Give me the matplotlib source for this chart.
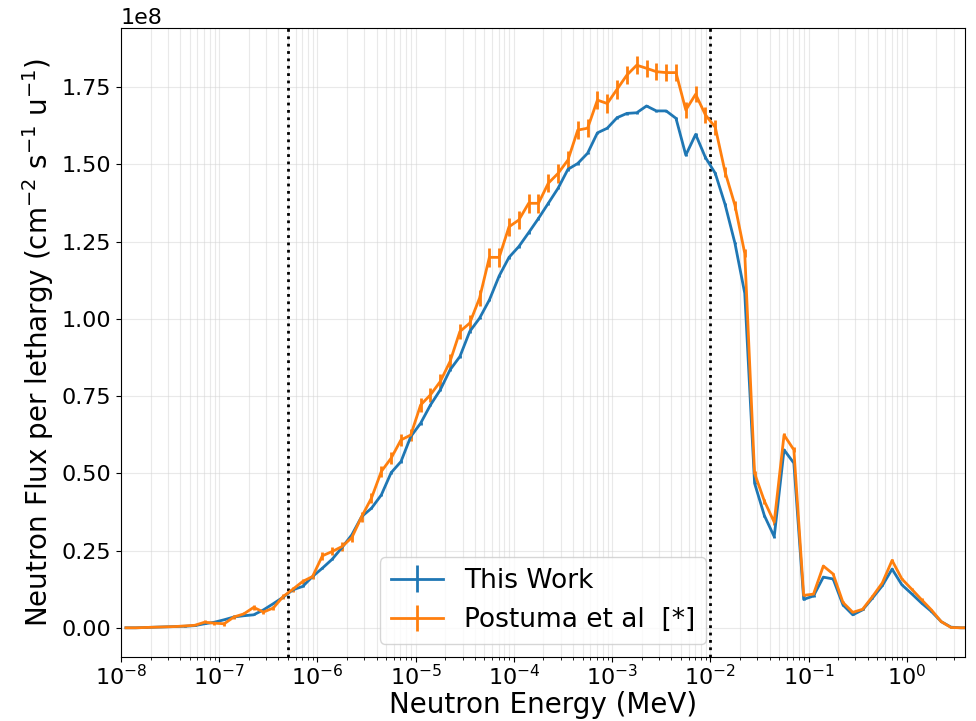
import numpy as np
import matplotlib
matplotlib.use("Agg")
import matplotlib.pyplot as plt

# Energy group structure: 10 log-uniform groups per decade starting at 1e-8 MeV
edges = np.logspace(-8.0, 0.7, 88)
energy = np.sqrt(edges[:-1] * edges[1:])  # geometric bin centres (MeV)

# Flux per lethargy, in units of 1e8 cm^-2 s^-1 u^-1
this_work = [
    0.000, 0.000, 0.001, 0.002, 0.003, 0.004, 0.005, 0.007, 0.013, 0.018,
    0.026, 0.035, 0.039, 0.042, 0.058, 0.078, 0.099, 0.123, 0.134, 0.166,
    0.193, 0.222, 0.260, 0.301, 0.360, 0.387, 0.430, 0.502, 0.538, 0.619,
    0.662, 0.721, 0.770, 0.835, 0.878, 0.959, 1.002, 1.061, 1.139, 1.199,
    1.234, 1.279, 1.325, 1.374, 1.423, 1.484, 1.503, 1.536, 1.602, 1.617,
    1.651, 1.665, 1.667, 1.689, 1.673, 1.673, 1.649, 1.530, 1.597, 1.522,
    1.471, 1.370, 1.245, 1.083, 0.468, 0.363, 0.295, 0.576, 0.533, 0.092,
    0.103, 0.164, 0.158, 0.074, 0.042, 0.058, 0.096, 0.136, 0.190, 0.139,
    0.110, 0.080, 0.053, 0.020, 0.002, 0.000, 0.000,
]
this_work_err = [
    0.001, 0.001, 0.001, 0.001, 0.001, 0.001, 0.001, 0.001, 0.002, 0.002,
    0.002, 0.002, 0.002, 0.002, 0.002, 0.002, 0.003, 0.003, 0.003, 0.003,
    0.003, 0.003, 0.003, 0.003, 0.003, 0.003, 0.003, 0.004, 0.004, 0.004,
    0.004, 0.004, 0.004, 0.004, 0.004, 0.004, 0.004, 0.004, 0.004, 0.004,
    0.004, 0.004, 0.004, 0.004, 0.004, 0.004, 0.004, 0.004, 0.004, 0.004,
    0.004, 0.004, 0.004, 0.004, 0.004, 0.004, 0.004, 0.004, 0.004, 0.004,
    0.004, 0.004, 0.004, 0.004, 0.003, 0.003, 0.003, 0.003, 0.003, 0.002,
    0.002, 0.002, 0.002, 0.002, 0.002, 0.002, 0.002, 0.002, 0.002, 0.002,
    0.002, 0.002, 0.002, 0.001, 0.001, 0.001, 0.001,
]
postuma = [
    0.000, 0.000, 0.001, 0.002, 0.003, 0.004, 0.006, 0.008, 0.018, 0.015,
    0.013, 0.035, 0.045, 0.066, 0.051, 0.064, 0.101, 0.125, 0.150, 0.166,
    0.233, 0.247, 0.263, 0.292, 0.360, 0.420, 0.506, 0.549, 0.608, 0.624,
    0.721, 0.754, 0.797, 0.862, 0.959, 0.986, 1.067, 1.199, 1.199, 1.298,
    1.320, 1.374, 1.374, 1.439, 1.471, 1.514, 1.611, 1.617, 1.708, 1.697,
    1.743, 1.789, 1.821, 1.811, 1.800, 1.797, 1.797, 1.676, 1.727, 1.660,
    1.620, 1.475, 1.368, 1.212, 0.500, 0.410, 0.342, 0.624, 0.576, 0.105,
    0.109, 0.200, 0.174, 0.082, 0.050, 0.060, 0.101, 0.145, 0.218, 0.158,
    0.125, 0.091, 0.058, 0.020, 0.001, 0.000, 0.000,
]
postuma_err = [
    0.001, 0.001, 0.001, 0.001, 0.001, 0.001, 0.002, 0.003, 0.006, 0.006,
    0.006, 0.006, 0.006, 0.007, 0.007, 0.007, 0.008, 0.008, 0.009, 0.009,
    0.013, 0.013, 0.014, 0.015, 0.016, 0.017, 0.018, 0.019, 0.020, 0.021,
    0.022, 0.022, 0.023, 0.024, 0.025, 0.026, 0.027, 0.030, 0.030, 0.030,
    0.030, 0.030, 0.030, 0.030, 0.030, 0.030, 0.030, 0.030, 0.030, 0.030,
    0.030, 0.030, 0.030, 0.028, 0.028, 0.028, 0.028, 0.026, 0.026, 0.026,
    0.024, 0.016, 0.015, 0.013, 0.008, 0.008, 0.008, 0.008, 0.008, 0.004,
    0.004, 0.004, 0.004, 0.004, 0.004, 0.004, 0.004, 0.004, 0.004, 0.004,
    0.004, 0.004, 0.003, 0.002, 0.001, 0.001, 0.001,
]
scale = 1e8
cut_lines = [5e-7, 1e-2]  # MeV

fig = plt.figure(figsize=(9.76, 7.21), dpi=100)
ax = fig.add_axes([0.124, 0.089, 0.865, 0.872])

ax.errorbar(energy, np.array(this_work) * scale, yerr=np.array(this_work_err) * scale,
            color="#1f77b4", lw=2, elinewidth=2, label="This Work")
ax.errorbar(energy, np.array(postuma) * scale, yerr=np.array(postuma_err) * scale,
            color="#ff7f0e", lw=2, elinewidth=2, label="Postuma et al  [*]")
for xv in cut_lines:
    ax.axvline(xv, color="black", ls=":", lw=2)

ax.set_xscale("log")
ax.set_xlim(1e-8, 10 ** 0.595)
ax.set_ylim(-0.094 * scale, 1.941 * scale)
ax.grid(True, which="both", color="#d5d5d5", alpha=0.5, lw=0.8)
ax.set_xlabel("Neutron Energy (MeV)", fontsize=20, labelpad=1)
ax.set_ylabel("Neutron Flux per lethargy (cm$^{-2}$ s$^{-1}$ u$^{-1}$)", fontsize=20)
ax.tick_params(axis="both", which="major", labelsize=16)
ax.tick_params(axis="x", which="major", pad=2)
ax.yaxis.get_offset_text().set_fontsize(16)
ax.legend(loc="lower center", fontsize=19)

fig.savefig("out.png", dpi=100)
